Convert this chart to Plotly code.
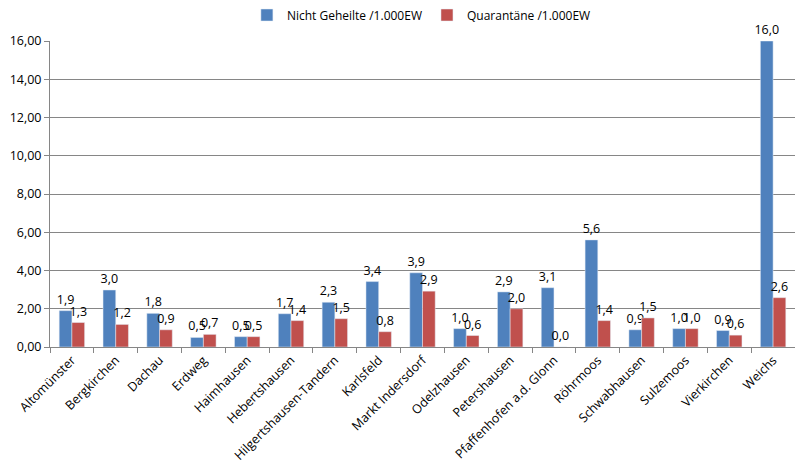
import plotly.graph_objects as go

categories = ["Altomünster", "Bergkirchen", "Dachau", "Erdweg", "Haimhausen", "Hebertshausen",
              "Hilgertshausen-Tandern", "Karlsfeld", "Markt Indersdorf", "Odelzhausen",
              "Petershausen", "Pfaffenhofen a.d. Glonn", "Röhrmoos", "Schwabhausen",
              "Sulzemoos", "Vierkirchen", "Weichs"]
nicht_geheilte = [1.9, 2.98, 1.76, 0.5, 0.54, 1.74, 2.34, 3.42, 3.88, 0.96, 2.88, 3.1, 5.6, 0.9, 0.96, 0.86, 16.0]
quarantaene = [1.28, 1.18, 0.9, 0.66, 0.54, 1.38, 1.48, 0.8, 2.92, 0.6, 2.0, 0.0, 1.38, 1.52, 0.96, 0.62, 2.58]

font = "Open Sans"
label_font = dict(size=12.5, color="#000000", family=font)
fig = go.Figure()
fig.add_trace(go.Bar(name="Nicht Geheilte /1.000EW", x=categories, y=nicht_geheilte,
                     marker_color="#4F81BD", texttemplate="%{y:.1f}", textposition="outside",
                     constraintext="none", cliponaxis=False, textfont=label_font))
fig.add_trace(go.Bar(name="Quarantäne /1.000EW", x=categories, y=quarantaene,
                     marker_color="#C0504D", texttemplate="%{y:.1f}", textposition="outside",
                     constraintext="none", cliponaxis=False, textfont=label_font))

# page body adds an 8px offset; compensate so the plot area lands at x 50-795, y 41-347
fig.update_layout(
    width=795, height=459,
    margin=dict(l=42, r=8, t=33, b=120, autoexpand=False),
    paper_bgcolor="white", plot_bgcolor="white",
    separators=",.",
    barmode="group", bargap=0.42, bargroupgap=0,
    font=dict(family=font, size=12, color="#000000"),
    legend=dict(orientation="h", x=0.52, xanchor="center", xref="container",
                y=1 - 7 / 459, yanchor="middle", yref="container",
                font=dict(size=12), itemwidth=30, traceorder="normal"),
    showlegend=True,
)
fig.update_yaxes(range=[0, 16], dtick=2, tickformat=".2f", showgrid=True, gridcolor="#868686",
                 gridwidth=1, showline=True, linecolor="#868686", ticks="outside", ticklen=5,
                 tickcolor="#868686", tickfont=dict(size=12.5, family=font), zeroline=False,
                 automargin=False)
fig.update_xaxes(showline=True, linecolor="#868686", ticks="outside", tickson="boundaries",
                 ticklen=5, tickcolor="#868686", tickangle=-45,
                 tickfont=dict(size=12.5, family=font), automargin=False)

fig.write_html("out.html")
